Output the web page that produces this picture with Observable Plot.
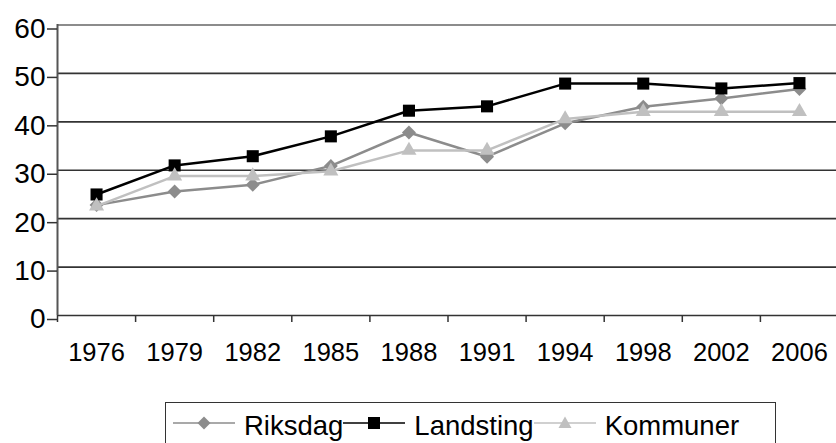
<!DOCTYPE html>
<html><head><meta charset="utf-8">
<script src="https://cdn.jsdelivr.net/npm/d3@7"></script>
<script src="https://cdn.jsdelivr.net/npm/@observablehq/plot@0.6"></script>
<style>
html,body{margin:0;padding:0;background:#fff;overflow:hidden;width:836px;height:443px;font-family:"Liberation Sans",Arial,sans-serif}
#chart svg{display:block}
#legend{margin-left:165px;margin-top:7px;width:611px;height:70px;box-sizing:border-box;border:1.5px solid #333;padding-left:7px;padding-top:7.5px;display:flex;align-items:flex-start}
.item{display:flex;align-items:flex-start;font-size:27.5px;line-height:30px;color:#000}
.item svg{display:block;margin-right:9px}
</style>
</head><body>
<div id="chart"></div>
<div id="legend"></div>
<script>
const years = [1976, 1979, 1982, 1985, 1988, 1991, 1994, 1998, 2002, 2006];
const riksdag = [22.8, 25.6, 27.0, 30.9, 37.8, 32.8, 39.7, 43.1, 44.8, 46.8];
const landsting = [25.0, 31.0, 32.9, 37.0, 42.3, 43.2, 47.9, 47.9, 46.9, 48.0];
const kommuner = [22.6, 28.8, 28.8, 29.8, 34.1, 34.1, 40.6, 42.1, 42.1, 42.1];
const seriesNames = ["Riksdag", "Landsting", "Kommuner"];
const seriesColors = ["#8c8c8c", "#000000", "#c0c0c0"];
const seriesSymbols = ["diamond2", "square", "triangle"];
const seriesR = [6.3, 6.8, 5.6];
const yTicks = [0, 10, 20, 30, 40, 50, 60];

const seriesValues = [riksdag, landsting, kommuner];
const data = [];
seriesValues.forEach((vals, s) => vals.forEach((v, i) => data.push({series: seriesNames[s], i: i + 0.5, year: years[i], value: v})));

const seriesMarks = [];
seriesNames.forEach((name, s) => {
  const d = data.filter(r => r.series === name);
  seriesMarks.push(Plot.line(d, {x: "i", y: "value", stroke: seriesColors[s], strokeWidth: 2.5}));
  seriesMarks.push(Plot.dot(d, {x: "i", y: "value", fill: seriesColors[s], symbol: seriesSymbols[s], r: seriesR[s], stroke: "none"}));
});

const chart = Plot.plot({
  width: 836,
  height: 395,
  marginLeft: 57,
  marginRight: 0,
  marginTop: 24,
  marginBottom: 80,
  style: {fontFamily: "Liberation Sans, Arial, sans-serif", background: "#fff", color: "#000"},
  x: {type: "linear", domain: [0, years.length], range: [57, 838]},
  y: {domain: [0, 60], range: [315, 24.5]},
  marks: [
    Plot.ruleY(yTicks.filter(t => t < 60), {stroke: "#333", strokeWidth: 1.6}),
    Plot.ruleY([60], {stroke: "#8c8c8c", strokeWidth: 1.8}),
    Plot.ruleX([0], {stroke: "#555", strokeWidth: 2}),
    Plot.axisY({ticks: yTicks, tickSize: 10, tickPadding: 2, fontSize: 28, dy: 4, label: null, strokeWidth: 1.5, stroke: "#333"}),
    Plot.axisX({ticks: d3.range(0, years.length + 1), tickSize: 7, tickFormat: () => "", label: null, strokeWidth: 1.5, stroke: "#333"}),
    Plot.axisX({ticks: years.map((_, i) => i + 0.5), tickSize: 0, tickPadding: 27, tickFormat: v => String(years[Math.floor(v)]), fontSize: 25.5, label: null}),
    ...seriesMarks
  ]
});
document.getElementById("chart").append(chart);

// legend
const legend = document.getElementById("legend");
seriesNames.forEach((name, s) => {
  const item = document.createElement("div");
  item.className = "item";
  const c = seriesColors[s];
  let sym = "";
  if (s === 0) sym = `<path d="M31,5.5L37.5,12L31,18.5L24.5,12Z" fill="${c}"/>`;
  if (s === 1) sym = `<rect x="25" y="6" width="12" height="12" fill="${c}"/>`;
  if (s === 2) sym = `<path d="M31,5.5L37.5,17L24.5,17Z" fill="${c}"/>`;
  item.innerHTML = `<svg width="62" height="30"><line x1="0" x2="62" y1="12" y2="12" stroke="${c}" stroke-width="1.6"/>${sym}</svg><span>${name}</span>`;
  legend.append(item);
});
</script>
</body></html>
